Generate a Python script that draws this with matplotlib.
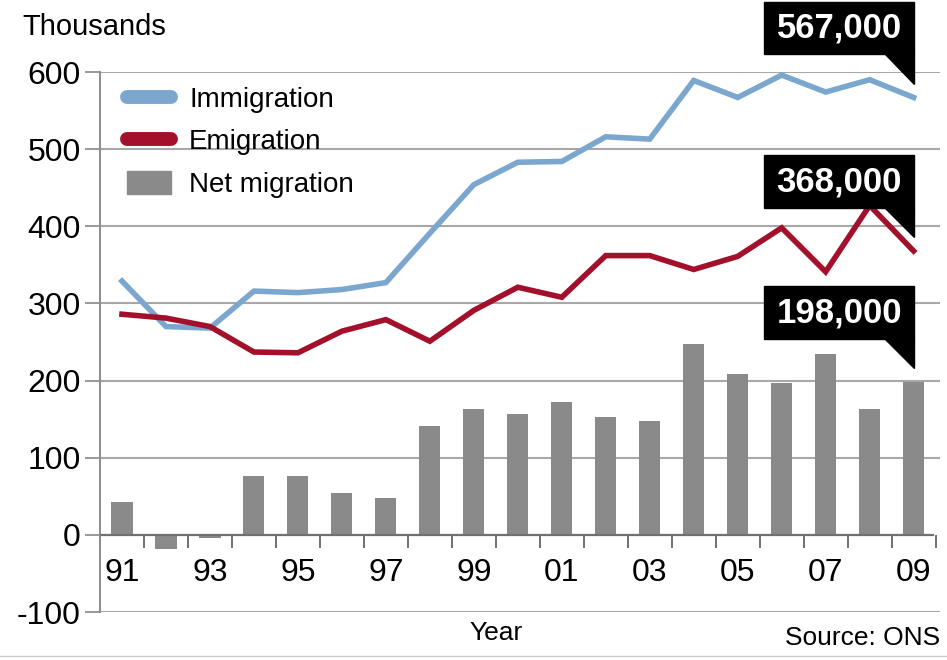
import numpy as np
import matplotlib
matplotlib.use("Agg")
import matplotlib.pyplot as plt
from matplotlib.patches import Rectangle, Polygon
from matplotlib.lines import Line2D

plt.rcParams['font.family'] = ['Liberation Sans', 'DejaVu Sans']
plt.rcParams['axes.unicode_minus'] = False

# ---- data (thousands) ----
years = np.arange(1991, 2010)
immigration = [329, 270, 268, 316, 314, 318, 327, 391, 454, 483, 484, 516, 513, 589, 567, 596, 574, 590, 567]
emigration = [286, 281, 270, 237, 236, 264, 279, 251, 291, 321, 308, 362, 362, 344, 361, 398, 341, 427, 368]
net_migration = [42, -18, -4, 76, 76, 54, 48, 141, 163, 157, 172, 153, 147, 248, 209, 197, 235, 163, 198]
callouts = ["567,000", "368,000", "198,000"]

blue = '#7ba7cf'
red = '#a2102b'
bar_grey = '#8a8a8a'
grid_grey = '#a8a8a8'

fig = plt.figure(figsize=(9.47, 6.60), dpi=100)
ax = fig.add_axes([100/947, 48/660, 840/947, 540/660])

ax.set_xlim(1990.5, 2009.6)
ax.set_ylim(-100, 600)

# gridlines
for v in [100, 200, 300, 400, 500, 600, -100]:
    ax.axhline(v, color=grid_grey, lw=1.5, zorder=0)

ax.bar(years, net_migration, width=0.48, color=bar_grey, zorder=2)
ax.plot(years, immigration, color=blue, lw=4, zorder=3, solid_joinstyle='miter')
ax.plot(years, emigration, color=red, lw=4, zorder=3, solid_joinstyle='miter')

# zero line with ticks between years
ax.plot([1990.5, 2009.45], [0, 0], color='#707070', lw=1.6, zorder=4)
ax.vlines(years + 0.5, -17, 0, color='#707070', lw=1.4, zorder=4)

for s in ['top', 'right', 'bottom']:
    ax.spines[s].set_visible(False)
ax.spines['left'].set_color('#909090')
ax.spines['left'].set_linewidth(1.5)

ax.set_yticks([-100, 0, 100, 200, 300, 400, 500, 600])
ax.tick_params(axis='y', length=11, width=1.3, color='#909090', pad=3, labelsize=23)
ax.set_xticks([])

for y in years[::2]:
    ax.text(y, -50, str(y)[2:], ha='center', va='center', fontsize=23)

ax.text(1999.5, -127, 'Year', ha='center', va='center', fontsize=19)
fig.text(940/947, 1 - 638/660, 'Source: ONS', ha='right', va='center', fontsize=19)
fig.text(22/947, 1 - 27/660, 'Thousands', ha='left', va='center', fontsize=21)
fig.add_artist(Line2D([0, 1], [1 - 656/660] * 2, color='#cccccc', lw=1))

# legend
handles = [Line2D([], [], color=blue, lw=10, solid_capstyle='round'),
           Line2D([], [], color=red, lw=10, solid_capstyle='round'),
           Rectangle((0, 0), 1, 1, color=bar_grey)]
ax.legend(handles, ['Immigration', 'Emigration', 'Net migration'], loc='upper left',
          bbox_to_anchor=(0.012, 1.005), frameon=False, fontsize=20, handlelength=1.6,
          handleheight=0.9, handletextpad=0.65, labelspacing=0.55, borderaxespad=0.3,
          borderpad=0.3)

# callout boxes above the last points
last_vals = [immigration[-1], emigration[-1], net_migration[-1]]
for val, label in zip(last_vals, callouts):
    tip_x = years[-1] + 0.02
    tip_y = val + 18
    box_bottom = tip_y + 38
    box_h = 68
    x0, x1 = years[-1] - 3.4, tip_x
    ax.add_patch(Rectangle((x0, box_bottom), x1 - x0, box_h, color='black',
                           clip_on=False, zorder=6))
    ax.add_patch(Polygon([[x1 - 0.68, box_bottom], [x1, box_bottom], [tip_x, tip_y]],
                         closed=True, color='black', clip_on=False, zorder=6))
    ax.text((x0 + x1) / 2, box_bottom + box_h / 2, label, color='white', ha='center',
            va='center', fontsize=25, fontweight='bold', zorder=7, clip_on=False)

fig.savefig('out.png', dpi=100)
